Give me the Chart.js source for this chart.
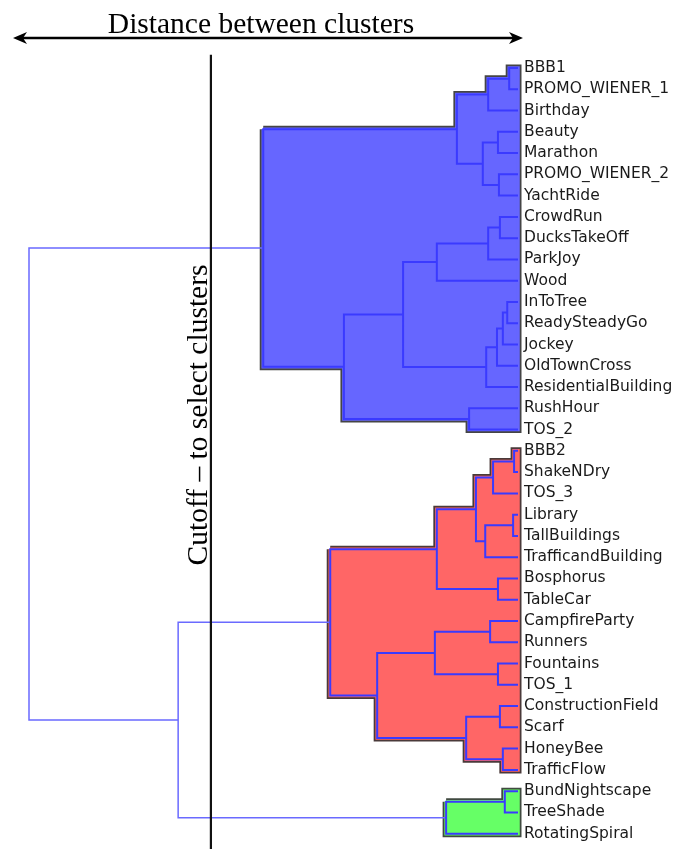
<!DOCTYPE html>
<html>
<head>
<meta charset="utf-8">
<script src="https://cdn.jsdelivr.net/npm/chart.js@4.4.0/dist/chart.umd.min.js"></script>
<style>
  html, body { margin: 0; padding: 0; background: #fff; }
  #wrap { width: 675px; height: 849px; position: relative; }
</style>
</head>
<body>
<div id="wrap"><canvas id="dendro"></canvas></div>
<script>
// Leaves in the order they appear, top to bottom
const leafNames = [
  'BBB1', 'PROMO_WIENER_1', 'Birthday', 'Beauty', 'Marathon', 'PROMO_WIENER_2',
  'YachtRide', 'CrowdRun', 'DucksTakeOff', 'ParkJoy', 'Wood', 'InToTree',
  'ReadySteadyGo', 'Jockey', 'OldTownCross', 'ResidentialBuilding', 'RushHour', 'TOS_2',
  'BBB2', 'ShakeNDry', 'TOS_3', 'Library', 'TallBuildings', 'TrafficandBuilding',
  'Bosphorus', 'TableCar', 'CampfireParty', 'Runners', 'Fountains', 'TOS_1',
  'ConstructionField', 'Scarf', 'HoneyBee', 'TrafficFlow',
  'BundNightscape', 'TreeShade', 'RotatingSpiral'
];

// Linkage rows: new node id = leafNames.length + row index
const mergeLeft  = [0, 37, 3, 5, 39, 38, 7, 43, 44, 11, 46, 47, 48, 45, 16, 50, 42,
                    18, 54, 21, 56, 55, 24, 58, 26, 28, 61, 30, 32, 64, 63, 60, 34, 69, 68, 53];
const mergeRight = [1, 2, 4, 6, 40, 41, 8, 9, 10, 12, 13, 14, 15, 49, 17, 51, 52,
                    19, 20, 22, 23, 57, 25, 59, 27, 29, 62, 31, 33, 65, 66, 67, 35, 36, 70, 71];
const mergeHeight = [1.8, 6.1, 4.1, 3.9, 7.2, 12.5, 3.7, 6.1, 16.6, 2.2, 3.1, 4.3, 6.5, 23.5, 10.0, 35.6, 52.1,
                     0.8, 5.1, 1.0, 6.7, 8.6, 4.1, 16.6, 5.7, 4.1, 17.0, 3.7, 3.1, 10.6, 28.8, 38.4, 2.7, 14.7, 69.5, 100];

const cutoffHeight = 62.8;
const maxDistance = 100;
const clusterFill = ['#6666ff', '#ff6666', '#66ff66'];
const clusterEdge = ['#454545', '#4a3a3a', '#404a40'];

// build the tree
const nLeaves = leafNames.length;
const nodeY = leafNames.map((_, i) => i);
const nodeH = leafNames.map(() => 0);
const children = leafNames.map(() => null);
mergeHeight.forEach((h, k) => {
  const a = mergeLeft[k], b = mergeRight[k];
  nodeY.push((nodeY[a] + nodeY[b]) / 2);
  nodeH.push(h);
  children.push(nodeY[a] < nodeY[b] ? [a, b] : [b, a]);
});
const root = nodeY.length - 1;

// find the clusters under the cutoff
const clusterRoots = [];
function findClusters(n) {
  if (nodeH[n] < cutoffHeight) { clusterRoots.push(n); return; }
  children[n].forEach(findClusters);
}
findClusters(root);

// link segments, split into links above the cutoff and inside clusters
const topLinks = [];
const innerLinks = [];
for (let n = nLeaves; n < nodeY.length; n++) {
  const [a, b] = children[n];
  const target = nodeH[n] < cutoffHeight ? innerLinks : topLinks;
  target.push(
    { x: nodeH[a], y: nodeY[a] },
    { x: nodeH[n], y: nodeY[a] },
    { x: nodeH[n], y: nodeY[b] },
    { x: nodeH[b], y: nodeY[b] },
    { x: null, y: null }
  );
}

// outer contour of a cluster (top edge, then bottom edge back)
function contour(n, top) {
  const pts = [];
  while (children[n]) {
    const c = top ? children[n][0] : children[n][1];
    pts.push({ x: nodeH[n], y: nodeY[c] });
    pts.push({ x: nodeH[c], y: nodeY[c] });
    n = c;
  }
  return pts;
}

const datasets = [];
clusterRoots.forEach((r, i) => {
  const poly = contour(r, true).concat(contour(r, false).reverse());
  poly.push(poly[0]);
  datasets.push({
    data: poly, showLine: true, pointRadius: 0, clip: false, order: 5,
    borderColor: clusterEdge[i], borderWidth: 7, borderJoinStyle: 'miter', fill: false
  });
  datasets.push({
    data: poly, showLine: true, pointRadius: 0, clip: false, order: 4,
    borderColor: clusterFill[i], borderWidth: 3.5, borderJoinStyle: 'miter',
    backgroundColor: clusterFill[i], fill: 'shape'
  });
});
datasets.push({
  data: topLinks, showLine: true, pointRadius: 0, clip: false, order: 3, spanGaps: false,
  borderColor: '#6a6aff', borderWidth: 1.5, fill: false
});
datasets.push({
  data: innerLinks, showLine: true, pointRadius: 0, clip: false, order: 2, spanGaps: false,
  borderColor: '#3a3aff', borderWidth: 2, fill: false
});
// cutoff line
datasets.push({
  data: [{ x: cutoffHeight, y: -0.62 }, { x: cutoffHeight, y: nLeaves - 1 + 0.72 }],
  showLine: true, pointRadius: 0, clip: false, order: 1,
  borderColor: '#111', borderWidth: 2.2, fill: false
});

// title, arrow and cutoff caption
const annotations = {
  id: 'annotations',
  afterDraw(chart) {
    const { ctx } = chart;
    const xs = chart.scales.x;
    ctx.save();
    ctx.fillStyle = '#000';
    ctx.strokeStyle = '#000';

    const ay = 38;
    const ax0 = 13;
    const ax1 = xs.getPixelForValue(0) + 5;
    ctx.lineWidth = 2.6;
    ctx.beginPath();
    ctx.moveTo(ax0 + 6, ay);
    ctx.lineTo(ax1 - 6, ay);
    ctx.stroke();
    // arrow heads
    ctx.beginPath();
    ctx.moveTo(ax0, ay);
    ctx.lineTo(ax0 + 14, ay - 6);
    ctx.lineTo(ax0 + 10, ay);
    ctx.lineTo(ax0 + 14, ay + 6);
    ctx.closePath();
    ctx.fill();
    ctx.beginPath();
    ctx.moveTo(ax1, ay);
    ctx.lineTo(ax1 - 14, ay - 6);
    ctx.lineTo(ax1 - 10, ay);
    ctx.lineTo(ax1 - 14, ay + 6);
    ctx.closePath();
    ctx.fill();

    ctx.font = '29.5px "Liberation Serif", "DejaVu Serif", serif';
    ctx.textAlign = 'center';
    ctx.textBaseline = 'alphabetic';
    ctx.fillText('Distance between clusters', 261, 32.5);

    const cx = xs.getPixelForValue(cutoffHeight) - 4;
    ctx.translate(cx, 415);
    ctx.rotate(-Math.PI / 2);
    ctx.fillText('Cutoff \u2013 to select clusters', 0, 0);
    ctx.restore();
  }
};

new Chart(document.getElementById('dendro'), {
  type: 'scatter',
  data: { datasets },
  options: {
    responsive: true,
    maintainAspectRatio: false,
    animation: false,
    layout: { padding: { left: 29, top: 68, right: 0, bottom: 15 } },
    plugins: { legend: { display: false }, tooltip: { enabled: false } },
    scales: {
      x: { type: 'linear', reverse: true, min: 0, max: maxDistance, display: false },
      y: {
        type: 'linear', reverse: true, min: 0, max: nLeaves - 1, position: 'right',
        grid: { display: false, drawTicks: false },
        border: { display: false },
        afterFit: (scale) => { scale.width = 157; },
        ticks: {
          stepSize: 1, autoSkip: false, padding: 6, color: '#1a1a1a',
          font: { family: 'DejaVu Sans', size: 15.5 },
          callback: (v) => leafNames[v] ?? ''
        }
      }
    }
  },
  plugins: [annotations]
});
</script>
</body>
</html>
